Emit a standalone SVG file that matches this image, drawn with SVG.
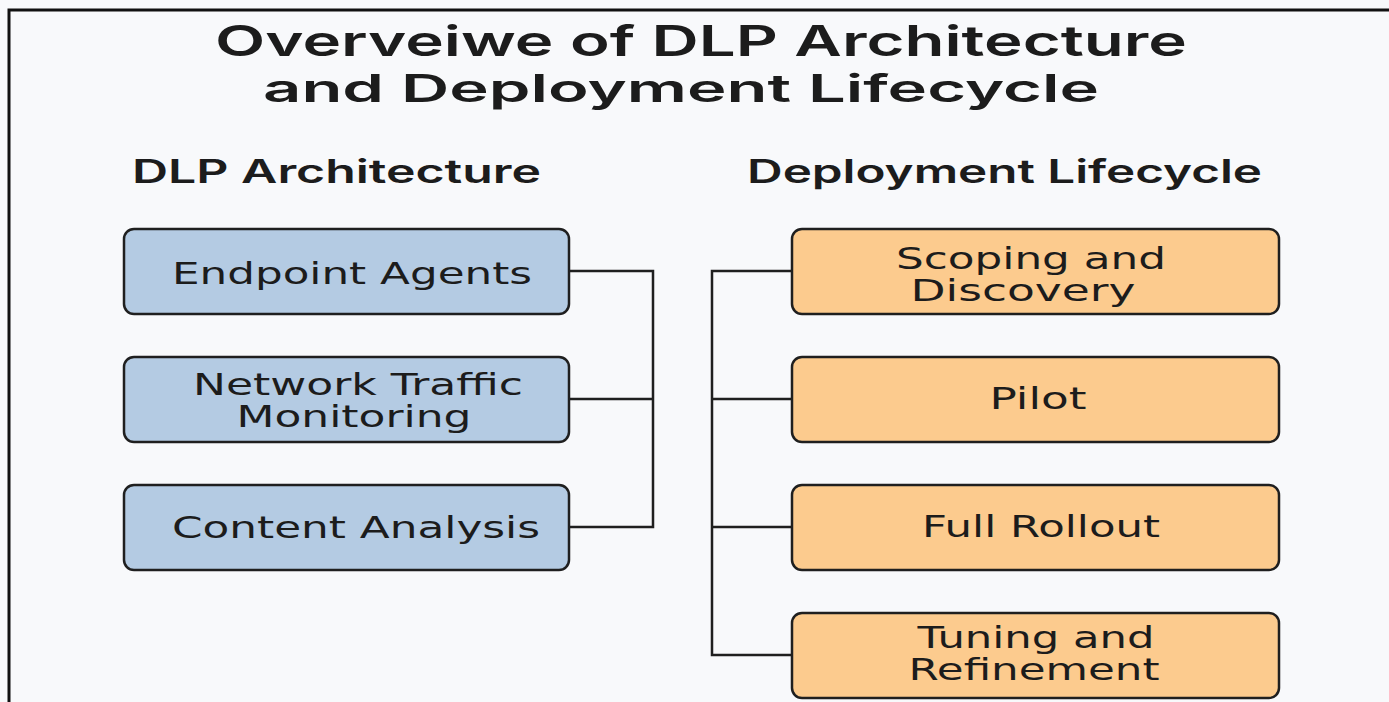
<svg xmlns="http://www.w3.org/2000/svg" width="1389" height="702" viewBox="0 0 1389 702">
  <style>
    .title { font-family: Inter, "DejaVu Sans", sans-serif; font-weight: 600; fill: #1c1c1c; text-anchor: middle; }
    .head { font-family: Inter, "DejaVu Sans", sans-serif; font-weight: 600; font-size: 32px; fill: #1c1c1c; }
    .label { font-family: "DejaVu Sans", "Liberation Sans", sans-serif; font-size: 30px; fill: #1c1c1c; text-anchor: middle; }
    .arch { fill: #b4cbe3; stroke: #1f1f1f; stroke-width: 2.5; }
    .life { fill: #fccb8e; stroke: #1f1f1f; stroke-width: 2.5; }
    .wire { fill: none; stroke: #1f1f1f; stroke-width: 2.5; }
  </style>

  <!-- page background and frame -->
  <rect x="0" y="0" width="1389" height="702" fill="#f8f9fb"/>
  <path d="M9 702 V10 H1389" fill="none" stroke="#111" stroke-width="3"/>

  <!-- heading -->
  <text class="title" x="701" y="56" font-size="42" textLength="972" lengthAdjust="spacingAndGlyphs">Overveiwe of DLP Architecture</text>
  <text class="title" x="681" y="102" font-size="38" textLength="836" lengthAdjust="spacingAndGlyphs">and Deployment Lifecycle</text>

  <text class="head" x="132" y="183" textLength="409" lengthAdjust="spacingAndGlyphs">DLP Architecture</text>
  <text class="head" x="747" y="183" textLength="515" lengthAdjust="spacingAndGlyphs">Deployment Lifecycle</text>

  <!-- connectors -->
  <g id="connectors">
    <path class="wire" d="M569 271 H653 V527 H569 M569 399 H653"/>
    <path class="wire" d="M792 271 H712 V655 H792 M712 399 H792 M712 527 H792"/>
  </g>

  <!-- architecture components -->
  <g id="endpoint-agents">
    <rect class="arch" x="124" y="229" width="445" height="85" rx="10"/>
    <text class="label" x="352" y="284" textLength="360" lengthAdjust="spacingAndGlyphs">Endpoint Agents</text>
  </g>
  <g id="network-traffic-monitoring">
    <rect class="arch" x="124" y="357" width="445" height="85" rx="10"/>
    <text class="label" x="358" y="395" textLength="330" lengthAdjust="spacingAndGlyphs">Network Traffic</text>
    <text class="label" x="354" y="427" textLength="235" lengthAdjust="spacingAndGlyphs">Monitoring</text>
  </g>
  <g id="content-analysis">
    <rect class="arch" x="124" y="485" width="445" height="85" rx="10"/>
    <text class="label" x="356" y="538" textLength="368" lengthAdjust="spacingAndGlyphs">Content Analysis</text>
  </g>

  <!-- deployment phases -->
  <g id="scoping-discovery">
    <rect class="life" x="792" y="229" width="487" height="85" rx="10"/>
    <text class="label" x="1031" y="269" textLength="270" lengthAdjust="spacingAndGlyphs">Scoping and</text>
    <text class="label" x="1023" y="301" textLength="225" lengthAdjust="spacingAndGlyphs">Discovery</text>
  </g>
  <g id="pilot">
    <rect class="life" x="792" y="357" width="487" height="85" rx="10"/>
    <text class="label" x="1038" y="409" textLength="97" lengthAdjust="spacingAndGlyphs">Pilot</text>
  </g>
  <g id="full-rollout">
    <rect class="life" x="792" y="485" width="487" height="85" rx="10"/>
    <text class="label" x="1041" y="537" textLength="238" lengthAdjust="spacingAndGlyphs">Full Rollout</text>
  </g>
  <g id="tuning-refinement">
    <rect class="life" x="792" y="613" width="487" height="85" rx="10"/>
    <text class="label" x="1036" y="648" textLength="237" lengthAdjust="spacingAndGlyphs">Tuning and</text>
    <text class="label" x="1034" y="680" textLength="251" lengthAdjust="spacingAndGlyphs">Refinement</text>
  </g>
</svg>
